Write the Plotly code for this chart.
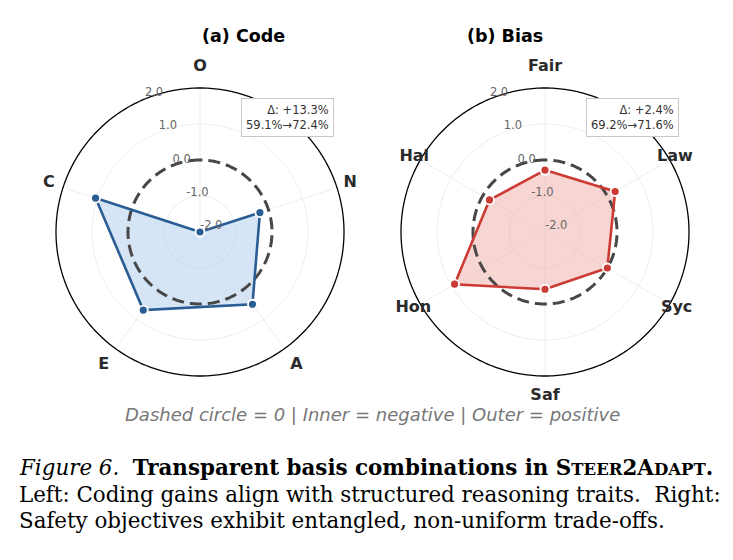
import numpy as np
import plotly.graph_objects as go

# ---- data ----
code_traits = ["O", "C", "E", "A", "N"]
code_values = [-2.0, 1.05, 0.68, 0.48, -0.25]
bias_traits = ["Fair", "Hal", "Hon", "Saf", "Syc", "Law"]
bias_values = [-0.28, -0.22, 0.90, -0.41, 0.0, 0.25]
radial_ticks = [-2.0, -1.0, 0.0, 1.0, 2.0]
code_delta = ["Δ: +13.3%", "59.1%→72.4%"]
bias_delta = ["Δ: +2.4%", "69.2%→71.6%"]

# ---- layout constants ----
W, H = 733, 560
R_MIN, R_EDGE = -2.0, 2.0          # data limits (outer black circle at R_EDGE)
PX_PER_UNIT = 36.0
R_VIEW = 2.75                      # extra room for category labels
HALF = (R_VIEW - R_MIN) * PX_PER_UNIT
code_label_px = [165, 159, 164, 164, 158]
bias_label_px = [165, 151, 152, 164, 152, 150]
CY = 232
CX_LEFT, CX_RIGHT = 200, 545

BLUE = "#2a5d93"
BLUE_FILL = "rgba(172,203,236,0.5)"
RED = "#cc3b33"
RED_FILL = "rgba(240,172,166,0.5)"
GRID = "#eeeeee"

fig = go.Figure()


def add_radar(traits, values, color, fill, polar, label_px):
    n = len(traits)
    step = 360.0 / n
    thetas = [i * step for i in range(n)]
    r = list(values) + [values[0]]
    th = thetas + [thetas[0]]
    tc = np.linspace(0, 360, 361)
    # spokes
    for t in thetas:
        fig.add_trace(go.Scatterpolar(
            r=[R_MIN, R_EDGE], theta=[t, t], mode="lines",
            line=dict(color=GRID, width=1), hoverinfo="skip",
            showlegend=False, subplot=polar))
    # outer circle
    fig.add_trace(go.Scatterpolar(
        r=np.full_like(tc, R_EDGE), theta=tc, mode="lines",
        line=dict(color="black", width=1.3), hoverinfo="skip",
        showlegend=False, subplot=polar))
    # filled area
    fig.add_trace(go.Scatterpolar(
        r=r, theta=th, mode="lines", fill="toself", fillcolor=fill,
        line=dict(color=color, width=0), hoverinfo="skip",
        showlegend=False, subplot=polar))
    # zero reference circle
    fig.add_trace(go.Scatterpolar(
        r=np.zeros_like(tc), theta=tc, mode="lines",
        line=dict(color="#474747", width=3, dash="12px,6px"),
        hoverinfo="skip", showlegend=False, subplot=polar))
    # outline + markers
    fig.add_trace(go.Scatterpolar(
        r=r, theta=th, mode="lines+markers",
        line=dict(color=color, width=2.6),
        marker=dict(size=9, color=color, line=dict(color="white", width=1.8)),
        showlegend=False, subplot=polar))
    # radial tick labels
    fig.add_trace(go.Scatterpolar(
        r=radial_ticks, theta=[22.5] * len(radial_ticks), mode="text",
        text=[f"{v:.1f}" for v in radial_ticks], textposition="top right",
        textfont=dict(family="DejaVu Sans", size=11.5, color="#666666"),
        hoverinfo="skip", showlegend=False, subplot=polar, cliponaxis=False))
    # category labels
    fig.add_trace(go.Scatterpolar(
        r=[R_MIN + d / PX_PER_UNIT for d in label_px], theta=thetas,
        mode="text", text=[f"<b>{t}</b>" for t in traits],
        textposition="middle center",
        textfont=dict(family="DejaVu Sans", size=16, color="#2b2b2b"),
        hoverinfo="skip", showlegend=False, subplot=polar, cliponaxis=False))
    return thetas


def polar_layout(cx):
    return dict(
        domain=dict(x=[(cx - HALF) / W, (cx + HALF) / W],
                    y=[(H - CY - HALF) / H, (H - CY + HALF) / H]),
        bgcolor="rgba(0,0,0,0)",
        radialaxis=dict(
            range=[R_MIN, R_VIEW], tickvals=[-1.0, 1.0],
            showticklabels=False, showline=False, ticks="",
            gridcolor=GRID, gridwidth=1, layer="below traces"),
        angularaxis=dict(
            rotation=90, direction="counterclockwise",
            showticklabels=False, ticks="", showgrid=False,
            showline=False, layer="below traces"),
    )


add_radar(code_traits, code_values, BLUE, BLUE_FILL, "polar", code_label_px)
add_radar(bias_traits, bias_values, RED, RED_FILL, "polar2", bias_label_px)

fig.update_layout(
    width=W, height=H, margin=dict(l=0, r=0, t=0, b=0),
    paper_bgcolor="white", plot_bgcolor="white", showlegend=False,
    polar=polar_layout(CX_LEFT),
    polar2=polar_layout(CX_RIGHT),
)

ann = []
# titles
for txt, cx in [("(a) Code", CX_LEFT), ("(b) Bias", CX_RIGHT)]:
    ann.append(dict(text=f"<b>{txt}</b>", x=cx / W, y=(H - 36) / H,
                    xref="paper", yref="paper", yanchor="middle",
                    showarrow=False,
                    font=dict(family="DejaVu Sans", size=17.5, color="black")))
# delta boxes
for lines, xr in [(code_delta, 334), (bias_delta, 679)]:
    ann.append(dict(text="<br>".join(lines), x=xr / W, y=(H - 98) / H,
                    xref="paper", yref="paper", xanchor="right", yanchor="top",
                    align="right", showarrow=False,
                    font=dict(family="DejaVu Sans", size=11.5, color="#333333"),
                    bgcolor="white", bordercolor="#c8c8c8", borderwidth=1,
                    borderpad=4))
# footnote
ann.append(dict(text="<i>Dashed circle = 0 | Inner = negative | Outer = positive</i>",
                x=372 / W, y=(H - 414) / H, xref="paper", yref="paper",
                yanchor="middle", showarrow=False,
                font=dict(family="DejaVu Sans", size=18, color="#777777")))
# caption
sc = "<span style='font-size:16.5px'>"
cap1 = ("<i>Figure 6.</i>  <b>Transparent basis combinations in "
        f"S{sc}TEER</span>2A{sc}DAPT</span>.</b>")
cap2 = "Left: Coding gains align with structured reasoning traits.  Right:"
cap3 = "Safety objectives exhibit entangled, non-uniform trade-offs."
for txt, yc in [(cap1, 467), (cap2, 494), (cap3, 520)]:
    ann.append(dict(text=txt, x=17 / W, y=(H - yc) / H, xref="paper",
                    yref="paper", xanchor="left", yanchor="middle",
                    showarrow=False,
                    font=dict(family="DejaVu Serif", size=21.4, color="black")))
fig.update_layout(annotations=ann)

fig.write_html("out.html")
